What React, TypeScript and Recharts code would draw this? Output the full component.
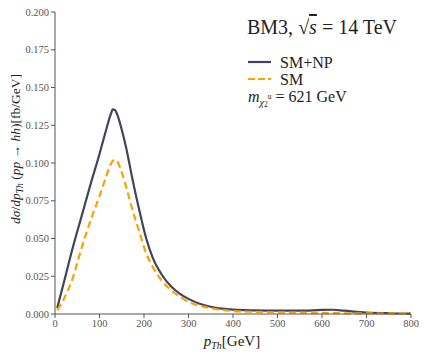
import { LineChart, Line, XAxis, YAxis } from "recharts";

const pT = [5, 20, 40, 60, 80, 100, 115, 125, 130, 135, 140, 150, 160, 175, 190, 205, 220, 240, 260, 280, 300, 325, 350, 375, 400, 450, 500, 550, 600, 625, 650, 700, 750, 800];

const smNP = [0.004, 0.021, 0.044, 0.065, 0.086, 0.106, 0.122, 0.132, 0.1355, 0.135, 0.132, 0.122, 0.11, 0.088, 0.068, 0.05, 0.037, 0.026, 0.0185, 0.0135, 0.01, 0.0068, 0.0048, 0.0036, 0.0029, 0.0024, 0.0022, 0.0022, 0.0027, 0.0028, 0.0022, 0.001, 0.0005, 0.0003];

const sm = [0.0026, 0.01, 0.024, 0.044, 0.062, 0.078, 0.091, 0.099, 0.1015, 0.1022, 0.101, 0.094, 0.084, 0.068, 0.054, 0.04, 0.031, 0.022, 0.016, 0.0115, 0.008, 0.0055, 0.0038, 0.0027, 0.002, 0.0014, 0.0011, 0.0009, 0.0007, 0.0006, 0.0005, 0.0004, 0.0003, 0.0002];

const xTicks = [0, 100, 200, 300, 400, 500, 600, 700, 800];
const yTicks = [0, 0.025, 0.05, 0.075, 0.1, 0.125, 0.15, 0.175, 0.2];

const NP_COLOR = "#43435a";
const SM_COLOR = "#ffa000";
const AXIS = "#555";
const FONT = "'Liberation Serif', 'DejaVu Serif', serif";

const data = pT.map((x, i) => ({ x, np: smNP[i], sm: sm[i] }));

export default function App() {
  return (
    <div style={{ position: "absolute", left: 0, top: 0, width: 427, height: 356, background: "#fff", fontFamily: FONT }}>
      <LineChart width={427} height={356} data={data} margin={{ top: 12, right: 16, left: 0, bottom: 0 }}>
        <XAxis
          dataKey="x"
          type="number"
          domain={[0, 800]}
          ticks={xTicks}
          interval={0}
          height={42}
          tickSize={4}
          stroke={AXIS}
          tick={{ fill: "#555", fontSize: 10.5, fontFamily: FONT }}
        />
        <XAxis xAxisId="top" orientation="top" type="number" domain={[0, 800]} dataKey="x" height={0} tick={false} tickLine={false} stroke={AXIS} />
        <YAxis
          type="number"
          domain={[0, 0.2]}
          ticks={yTicks}
          interval={0}
          width={55}
          tickSize={4}
          stroke={AXIS}
          tickFormatter={(v: number) => v.toFixed(3)}
          tick={{ fill: "#555", fontSize: 10.5, fontFamily: FONT }}
        />
        <YAxis yAxisId="right" orientation="right" type="number" domain={[0, 0.2]} width={0} tick={false} tickLine={false} stroke={AXIS} />
        <Line type="monotone" dataKey="np" stroke={NP_COLOR} strokeWidth={2.2} dot={false} isAnimationActive={false} />
        <Line type="monotone" dataKey="sm" stroke={SM_COLOR} strokeWidth={2.2} strokeDasharray="7 4" dot={false} isAnimationActive={false} />
      </LineChart>
      <svg width={427} height={356} style={{ position: "absolute", left: 0, top: 0, pointerEvents: "none" }} fontFamily={FONT}>
        <text x={247} y={34} fontSize={20} fill="#222">
          BM3, <tspan>√</tspan><tspan textDecoration="overline" fontStyle="italic">s</tspan> = 14 TeV
        </text>
        <line x1={248} x2={271} y1={62} y2={62} stroke={NP_COLOR} strokeWidth={2.2} />
        <text x={280} y={67.5} fontSize={16} fill="#222">SM+NP</text>
        <line x1={248} x2={271} y1={79} y2={79} stroke={SM_COLOR} strokeWidth={2.2} strokeDasharray="7 3" />
        <text x={280} y={84.5} fontSize={16} fill="#222">SM</text>
        <text x={248} y={102} fontSize={16} fill="#222">
          <tspan fontStyle="italic">m</tspan>
          <tspan fontSize={10} fontStyle="italic" dy={4}>χ</tspan>
          <tspan fontSize={7.5} dy={1}>2</tspan>
          <tspan fontSize={7.5} dy={-8}>u</tspan>
          <tspan dy={3}> = 621 GeV</tspan>
        </text>
        <text x={232} y={346} fontSize={15} fill="#222" textAnchor="middle">
          <tspan fontStyle="italic">p</tspan>
          <tspan fontStyle="italic" fontSize={10} dy={3}>Th</tspan>
          <tspan dy={-3}>[GeV]</tspan>
        </text>
        <text x={0} y={0} fontSize={13.5} fill="#222" textAnchor="middle" transform="translate(20,149) rotate(-90)">
          <tspan fontStyle="italic">dσ</tspan>/<tspan fontStyle="italic">dp</tspan>
          <tspan fontStyle="italic" fontSize={9.5} dy={3}>Th</tspan>
          <tspan dy={-3}> (</tspan><tspan fontStyle="italic">pp</tspan> → <tspan fontStyle="italic">hh</tspan>)[fb/GeV]
        </text>
      </svg>
    </div>
  );
}
